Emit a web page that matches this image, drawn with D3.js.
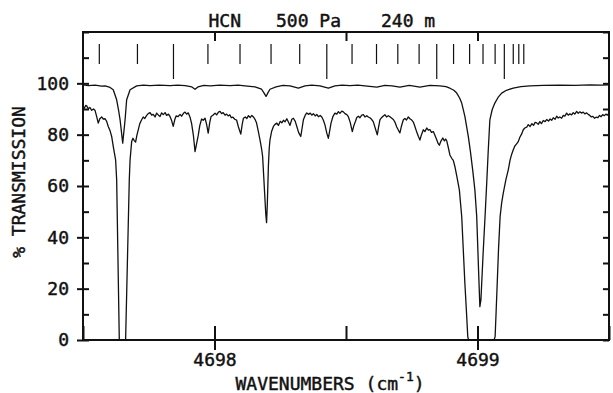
<!DOCTYPE html>
<html><head><meta charset="utf-8">
<script src="https://cdn.jsdelivr.net/npm/d3@7/dist/d3.min.js"></script>
<style>
body{margin:0;background:#fff;}
text{font-family:"DejaVu Sans Mono",monospace;fill:#111;stroke:#111;stroke-width:0.45px;}
</style></head>
<body><svg id="chart" width="613" height="393"></svg>
<script>
// ---------- data ----------
const titleParts = ["HCN", "500 Pa", "240 m"];
const yTickValues = [0, 20, 40, 60, 80, 100];
const yMinorValues = [0, 10, 20, 30, 40, 50, 60, 70, 80, 90, 100, 110, 120];
const xTickValues = [4698, 4699];
const xMinorValues = [4697.5, 4698, 4698.5, 4699, 4699.5];
const xLabel = "WAVENUMBERS (cm";
const yLabel = "% TRANSMISSION";

// line positions (wavenumber) and whether drawn long
const lineWn = [4697.562, 4697.707, 4697.844, 4697.975, 4698.097, 4698.215, 4698.324, 4698.427,
  4698.523, 4698.616, 4698.697, 4698.778, 4698.845, 4698.909, 4698.970, 4699.021, 4699.067,
  4699.102, 4699.136, 4699.157, 4699.176];
const lineLong = [0,0,1,0,0,0,0,1,0,0,0,0,1,0,0,0,0,1,0,0,0];

// upper trace [wavenumber, %T]
const upperTrace = [
 [4697.500,99.4],[4697.520,99.1],[4697.546,99.3],[4697.570,98.9],[4697.584,99.0],[4697.603,98.4],
 [4697.615,97.5],[4697.628,93.6],[4697.635,89.7],[4697.641,85.8],[4697.651,76.7],[4697.660,85.8],
 [4697.666,93.6],[4697.679,97.5],[4697.704,99.0],[4697.730,99.3],[4697.755,99.1],[4697.790,99.3],
 [4697.831,99.1],[4697.860,99.3],[4697.888,99.1],[4697.914,98.6],[4697.926,97.7],[4697.937,98.6],
 [4697.960,99.2],[4697.983,99.0],[4698.020,99.3],[4698.059,99.1],[4698.090,99.3],[4698.116,99.0],
 [4698.154,98.6],[4698.179,97.7],[4698.188,96.3],[4698.196,94.9],[4698.203,96.3],[4698.211,97.7],
 [4698.234,98.6],[4698.260,99.2],[4698.287,99.0],[4698.319,98.1],[4698.344,99.0],[4698.370,99.3],
 [4698.401,99.0],[4698.433,98.1],[4698.458,99.0],[4698.485,99.3],[4698.515,99.1],[4698.545,99.3],
 [4698.572,99.0],[4698.617,98.5],[4698.648,99.2],[4698.675,99.0],[4698.705,98.5],[4698.741,99.2],
 [4698.781,98.5],[4698.819,99.2],[4698.857,99.0],[4698.880,98.7],[4698.895,98.1],[4698.910,97.3],
 [4698.921,96.2],[4698.932,94.3],[4698.940,92.3],[4698.952,87.1],[4698.965,79.3],[4698.973,73.5],
 [4698.982,66.0],[4698.990,58.5],[4698.997,48.1],[4699.004,27.3],[4699.009,13.0],[4699.013,15.6],
 [4699.022,35.1],[4699.029,48.7],[4699.035,61.1],[4699.041,74.1],[4699.047,85.8],[4699.056,89.8],
 [4699.066,92.3],[4699.078,94.5],[4699.092,96.2],[4699.110,97.3],[4699.136,98.1],[4699.165,98.7],
 [4699.200,99.0],[4699.250,99.2],[4699.314,99.3],[4699.370,99.2],[4699.428,99.4],[4699.470,99.3],
 [4699.500,99.4]
];

// lower trace [wavenumber, %T]
const lowerTrace = [
 [4697.500,91.0],[4697.505,90.3],[4697.510,91.4],[4697.514,91.2],[4697.520,90.1],[4697.526,90.6],
 [4697.533,89.5],[4697.540,90.0],[4697.546,89.4],[4697.552,87.0],[4697.558,84.5],[4697.564,86.2],
 [4697.571,86.9],[4697.577,86.1],[4697.584,86.2],[4697.590,85.2],[4697.596,83.2],[4697.603,81.5],
 [4697.609,79.3],[4697.615,75.4],[4697.624,70.2],[4697.628,62.4],[4697.638,0],[4697.662,0],
 [4697.676,62.4],[4697.679,70.2],[4697.685,77.3],[4697.690,78.6],[4697.694,77.8],[4697.700,77.1],
 [4697.705,79.8],[4697.710,81.9],[4697.716,84.3],[4697.723,85.8],[4697.729,86.9],[4697.735,86.3],
 [4697.742,87.5],[4697.748,88.2],[4697.755,88.6],[4697.761,87.6],[4697.767,87.9],[4697.774,86.9],
 [4697.780,88.4],[4697.786,87.7],[4697.793,87.1],[4697.799,88.5],[4697.805,87.8],[4697.812,88.6],
 [4697.818,87.5],[4697.825,88.0],[4697.831,87.0],[4697.837,85.5],[4697.843,83.2],[4697.849,85.9],
 [4697.854,87.3],[4697.861,87.0],[4697.869,87.9],[4697.875,87.2],[4697.882,88.3],[4697.888,88.8],
 [4697.894,88.0],[4697.900,88.5],[4697.907,86.8],[4697.913,84.3],[4697.920,79.5],[4697.926,73.4],
 [4697.932,76.5],[4697.938,79.6],[4697.944,83.5],[4697.951,86.1],[4697.957,85.6],[4697.964,86.4],
 [4697.970,84.0],[4697.976,80.6],[4697.982,84.8],[4697.987,87.1],[4697.994,87.6],[4698.002,88.4],
 [4698.008,87.7],[4698.015,88.8],[4698.021,89.1],[4698.027,88.2],[4698.033,88.6],[4698.040,87.6],
 [4698.046,88.0],[4698.052,87.3],[4698.058,87.7],[4698.064,86.6],[4698.070,86.8],[4698.077,86.0],
 [4698.084,85.7],[4698.091,83.0],[4698.100,80.2],[4698.105,83.8],[4698.110,86.4],[4698.117,86.9],
 [4698.123,86.3],[4698.129,87.4],[4698.136,86.7],[4698.142,87.5],[4698.148,86.9],[4698.154,86.0],
 [4698.160,84.5],[4698.166,81.6],[4698.173,78.0],[4698.179,74.5],[4698.183,71.5],[4698.187,64.0],
 [4698.191,56.5],[4698.195,49.0],[4698.198,45.7],[4698.201,53.5],[4698.205,68.0],[4698.208,74.5],
 [4698.211,78.0],[4698.217,81.2],[4698.224,83.2],[4698.230,84.0],[4698.237,84.5],[4698.243,83.6],
 [4698.250,85.2],[4698.256,84.6],[4698.262,85.6],[4698.268,85.0],[4698.275,86.2],[4698.281,84.9],
 [4698.287,83.6],[4698.294,86.0],[4698.300,86.4],[4698.307,85.2],[4698.313,83.2],[4698.320,80.8],
 [4698.328,79.3],[4698.333,82.5],[4698.338,85.8],[4698.345,87.6],[4698.351,88.5],[4698.357,87.9],
 [4698.364,88.4],[4698.370,87.6],[4698.376,88.2],[4698.383,87.3],[4698.389,87.9],[4698.395,87.0],
 [4698.402,87.5],[4698.408,86.9],[4698.414,85.6],[4698.420,83.8],[4698.427,80.6],[4698.433,78.6],
 [4698.438,81.5],[4698.443,84.5],[4698.450,87.0],[4698.458,88.4],[4698.465,88.0],[4698.471,89.0],
 [4698.477,88.3],[4698.484,89.2],[4698.490,88.9],[4698.496,88.2],[4698.503,87.8],[4698.509,87.0],
 [4698.516,84.8],[4698.524,81.2],[4698.530,83.6],[4698.536,85.2],[4698.541,86.7],[4698.547,87.2],
 [4698.553,86.6],[4698.560,87.6],[4698.566,87.8],[4698.572,86.9],[4698.579,87.4],[4698.585,86.9],
 [4698.592,86.5],[4698.598,85.9],[4698.604,85.0],[4698.611,82.6],[4698.619,79.9],[4698.624,83.0],
 [4698.629,85.8],[4698.635,86.6],[4698.642,87.3],[4698.648,87.8],[4698.654,86.9],[4698.661,87.4],
 [4698.667,87.0],[4698.673,86.5],[4698.680,85.9],[4698.686,84.9],[4698.693,83.0],[4698.700,81.6],
 [4698.705,80.7],[4698.711,83.4],[4698.718,85.8],[4698.724,86.3],[4698.730,85.7],[4698.737,86.9],
 [4698.743,86.2],[4698.750,85.7],[4698.756,84.9],[4698.762,83.2],[4698.769,81.0],[4698.775,79.4],
 [4698.781,77.9],[4698.787,80.0],[4698.794,81.9],[4698.800,81.2],[4698.807,82.6],[4698.813,81.8],
 [4698.819,82.0],[4698.825,80.9],[4698.832,81.2],[4698.838,79.8],[4698.845,78.0],[4698.850,76.6],
 [4698.855,75.9],[4698.861,77.5],[4698.868,78.7],[4698.874,77.6],[4698.879,78.3],[4698.883,77.6],
 [4698.889,75.0],[4698.895,72.1],[4698.902,70.8],[4698.908,70.0],[4698.914,67.6],[4698.922,63.5],
 [4698.931,58.5],[4698.940,48.1],[4698.946,35.0],[4698.952,22.1],[4698.958,11.0],[4698.963,1.3],
 [4698.966,0],[4699.063,0],[4699.067,1.3],[4699.071,11.5],[4699.075,22.1],[4699.080,35.5],
 [4699.086,48.1],[4699.092,53.5],[4699.098,57.2],[4699.108,62.5],[4699.117,66.3],[4699.124,70.2],
 [4699.130,72.4],[4699.136,74.1],[4699.142,75.6],[4699.148,76.3],[4699.155,77.3],[4699.161,79.0],
 [4699.168,80.3],[4699.174,81.9],[4699.180,82.6],[4699.187,82.9],[4699.193,83.9],[4699.200,83.2],
 [4699.207,84.3],[4699.213,83.6],[4699.219,84.8],[4699.225,84.6],[4699.231,84.0],[4699.237,85.1],
 [4699.243,84.3],[4699.250,85.5],[4699.257,85.1],[4699.263,85.9],[4699.270,85.3],[4699.276,86.1],
 [4699.282,85.6],[4699.288,86.6],[4699.295,86.0],[4699.301,87.2],[4699.307,86.5],[4699.313,86.9],
 [4699.320,86.4],[4699.326,87.5],[4699.332,87.2],[4699.339,88.4],[4699.345,87.6],[4699.351,88.1],
 [4699.358,87.7],[4699.364,88.6],[4699.370,88.0],[4699.377,89.1],[4699.383,88.3],[4699.389,88.9],
 [4699.395,88.4],[4699.402,88.8],[4699.408,88.1],[4699.415,88.5],[4699.421,87.9],[4699.427,87.5],
 [4699.433,86.9],[4699.439,87.1],[4699.445,86.4],[4699.451,86.8],[4699.458,86.6],[4699.464,87.5],
 [4699.470,87.0],[4699.476,87.8],[4699.482,87.4],[4699.488,88.0],[4699.494,87.6],[4699.500,88.4]
];

// ---------- drawing ----------
const svg = d3.select("#chart");
const L = 83, R = 609, T = 32, B = 340;
const x = d3.scaleLinear().domain([4697.5, 4699.5]).range([L, R]);
const y = d3.scaleLinear().domain([0, 120]).range([B, T]);
const ink = "#111";

svg.append("defs").append("clipPath").attr("id", "clip")
  .append("rect").attr("x", L).attr("y", T).attr("width", R - L).attr("height", B - T);

function styleAxis(g) {
  g.select(".domain").remove();
  g.selectAll(".tick line").attr("stroke", ink).attr("stroke-width", 2);
  g.selectAll(".tick text").attr("font-size", 18).attr("font-family", "DejaVu Sans Mono").attr("fill", ink);
}

// left axis: outward major ticks with labels
svg.append("g").attr("transform", `translate(${L},0)`)
  .call(d3.axisLeft(y).tickValues(yTickValues).tickSize(6).tickPadding(8).tickFormat(d3.format("d")))
  .call(styleAxis);
// left inner ticks
svg.append("g").attr("transform", `translate(${L},0)`)
  .call(d3.axisLeft(y).tickValues(yMinorValues).tickSize(-6).tickFormat(""))
  .call(styleAxis);
// right inner ticks
svg.append("g").attr("transform", `translate(${R},0)`)
  .call(d3.axisRight(y).tickValues(yMinorValues).tickSize(-6).tickFormat(""))
  .call(styleAxis);
// bottom outward major ticks with labels
svg.append("g").attr("transform", `translate(0,${B})`)
  .call(d3.axisBottom(x).tickValues(xTickValues).tickSize(10).tickPadding(3).tickFormat(d3.format("d")))
  .call(styleAxis);
// bottom inner ticks
svg.append("g").attr("transform", `translate(0,${B})`)
  .call(d3.axisBottom(x).tickValues(xMinorValues).tickSize(-14).tickFormat(""))
  .call(styleAxis);
// top inner ticks
svg.append("g").attr("transform", `translate(0,${T})`)
  .call(d3.axisTop(x).tickValues([4698, 4698.5, 4699]).tickSize(-9).tickFormat(""))
  .call(styleAxis);

// frame
svg.append("rect").attr("x", L).attr("y", T).attr("width", R - L).attr("height", B - T)
  .attr("fill", "none").attr("stroke", ink).attr("stroke-width", 2);

// line position markers
const markTop = 44, markShort = 64, markLong = 79;
svg.append("g").selectAll("line").data(lineWn).join("line")
  .attr("x1", d => x(d)).attr("x2", d => x(d))
  .attr("y1", markTop)
  .attr("y2", (d, i) => lineLong[i] ? markLong : markShort)
  .attr("stroke", ink).attr("stroke-width", 1.2);

// spectra
const line = d3.line().x(d => x(d[0])).y(d => y(d[1]));
const spectra = svg.append("g").attr("clip-path", "url(#clip)");
[upperTrace, lowerTrace].forEach(tr => {
  spectra.append("path").datum(tr).attr("d", line)
    .attr("fill", "none").attr("stroke", ink).attr("stroke-width", 1.3)
    .attr("stroke-linejoin", "round");
});

// title
const titleX = [208.5, 276, 381];
const title = svg.append("text").attr("y", 27).attr("font-size", 18);
titleParts.forEach((t, i) => title.append("tspan").attr("x", titleX[i]).text(t));

// y label
svg.append("text").attr("transform", "translate(25,182) rotate(-90)")
  .attr("text-anchor", "middle").attr("font-size", 18).text(yLabel);

// x label with superscript
const xl = svg.append("text").attr("x", 235.5).attr("y", 390).attr("font-size", 18);
xl.append("tspan").text(xLabel);
xl.append("tspan").attr("dy", -9).attr("font-size", 13).text("-1");
xl.append("tspan").attr("dy", 9).text(")");
</script>
</body></html>
